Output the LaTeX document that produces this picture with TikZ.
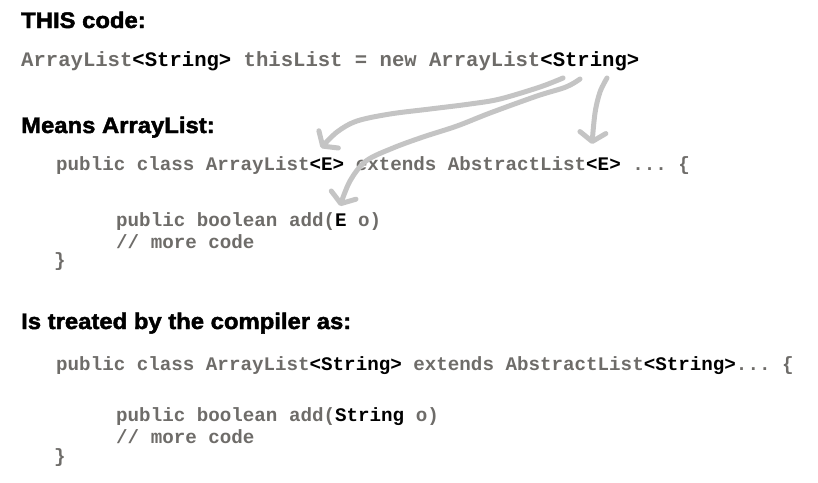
\documentclass[tikz,border=0pt]{standalone}
\usepackage{fontspec}
\setmonofont{Liberation Mono}
\newfontfamily\headfont[FakeBold=2,FakeStretch=1.06]{Liberation Sans}
\usetikzlibrary{arrows.meta}

\definecolor{codegray}{HTML}{6E6C69}
\definecolor{arrowgray}{HTML}{C4C4C4}
\newcommand{\hilite}[1]{\textcolor{black}{#1}}

\begin{document}
\begin{tikzpicture}[x=1pt,y=-1pt]
    \tikzstyle{heading}=[anchor=base west, inner sep=0pt, font=\headfont\bfseries\fontsize{22.5}{24}\selectfont]
    \tikzstyle{code}=[anchor=base west, inner sep=0pt, text=codegray, font=\ttfamily\bfseries\fontsize{19.2}{20}\selectfont]
    \tikzstyle{hand}=[draw=arrowgray, line width=5pt, line cap=round, line join=round, -{Straight Barb[length=9pt,width=26pt,round]}]
    \useasboundingbox (0,0) rectangle (818,482);
    \foreach \t/\y/\txt in { this/28/{THIS code:}, means/133/{Means ArrayList:}, treated/329/{Is treated by the compiler as:} }
        \node[heading] (\t) at (21,\y) {\txt};
    \node[code, font=\ttfamily\bfseries\fontsize{20.6}{22}\selectfont] (decl) at (21,66)
        {ArrayList\hilite{<String>} thisList = new ArrayList\hilite{<String>}};
    \node[code] (classE) at (56,170) {public class ArrayList\hilite{<E>} extends AbstractList\hilite{<E>} ... \{};
    \node[code] (addE) at (116,226) {public boolean add(\hilite{E} o)};
    \node[code] (moreE) at (116,248) {// more code};
    \node[code] (endE) at (54,266) {\}};
    \node[code] (classS) at (56,370) {public class ArrayList\hilite{<String>} extends AbstractList\hilite{<String>}... \{};
    \node[code] (addS) at (116,421) {public boolean add(\hilite{String} o)};
    \node[code] (moreS) at (116,443) {// more code};
    \node[code] (endS) at (54,462) {\}};
    \coordinate (fromA) at (563,78);
    \coordinate (fromB) at (580,79);
    \coordinate (fromC) at (607,78);
    \coordinate (toClass) at (321,148);
    \coordinate (toAdd) at (340,206);
    \coordinate (toSuper) at (592,144);
    \draw[hand] plot[smooth, tension=0.55] coordinates {(fromA) (540,87) (500,99) (470,104) (430,109) (390,114) (357,121) (337,132) (toClass)};
    \draw[hand] plot[smooth, tension=0.55] coordinates {(fromB) (566,87) (537,96) (490,113) (457,126) (423,137) (393,148) (366,161) (350,181) (toAdd)};
    \draw[hand] plot[smooth, tension=0.55] coordinates {(fromC) (600,92) (595,113) (toSuper)};
\end{tikzpicture}
\end{document}
